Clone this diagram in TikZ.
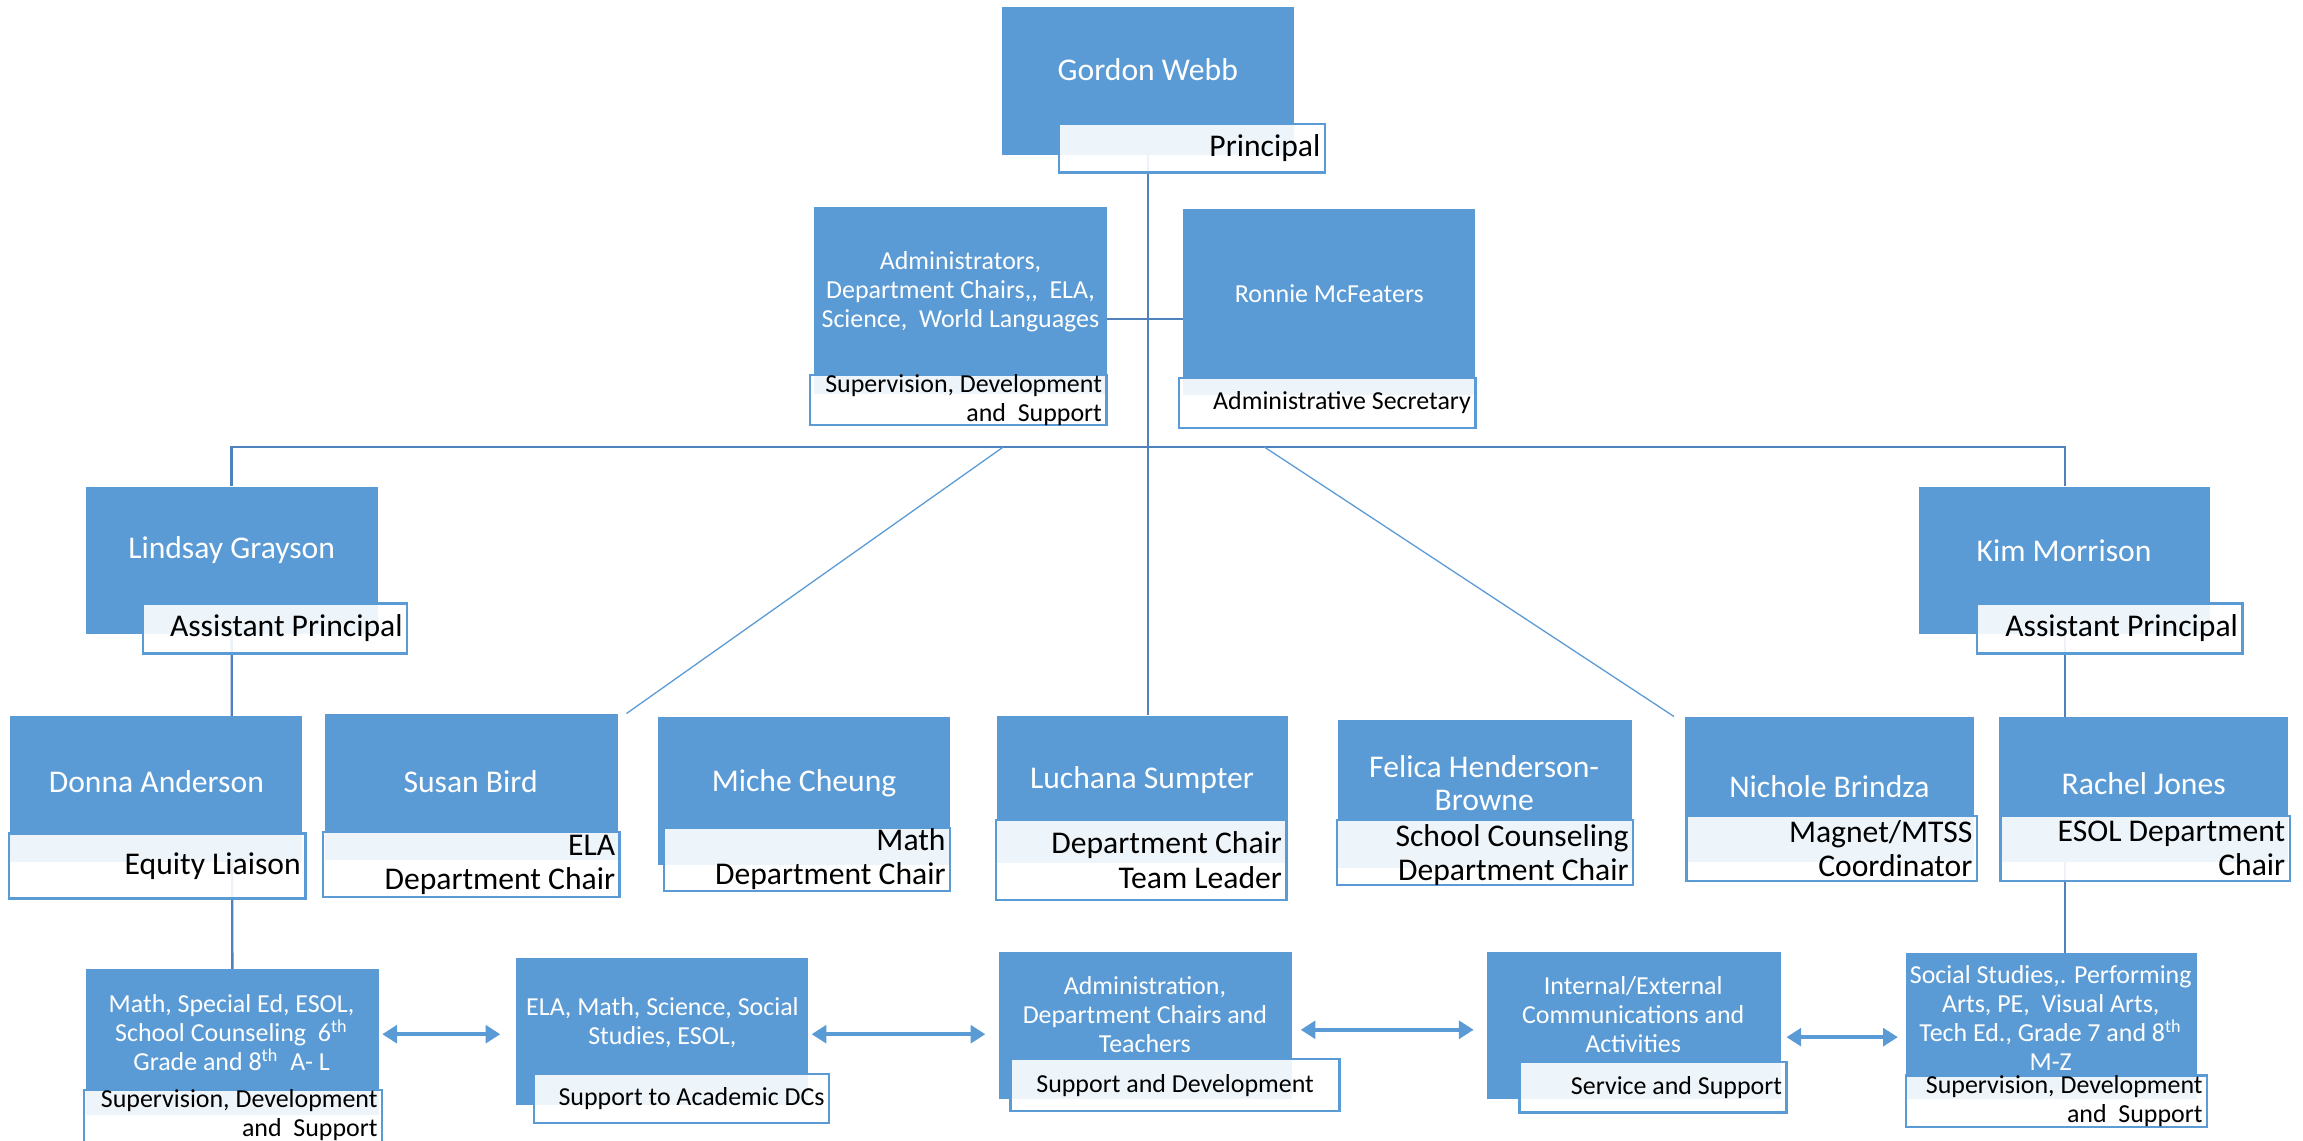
\documentclass[tikz,border=0pt]{standalone}
\usepackage{fontspec}
\setmainfont{Carlito}
\usetikzlibrary{fit,arrows.meta}
\definecolor{orgblue}{HTML}{5B9BD5}
\definecolor{linkblue}{HTML}{4F81BD}
\newcommand{\bigtxt}{\fontsize{12.2pt}{13.2pt}\selectfont}
\newcommand{\smalltxt}{\fontsize{10pt}{11.2pt}\selectfont}
\pgfdeclarelayer{bg}
\pgfsetlayers{bg,main}
\tikzset{
  bluebox/.style={fill=orgblue, draw=none, inner sep=0pt},
  tagbox/.style={fill=white, fill opacity=0.9, draw=orgblue, line width=0.9pt, inner sep=0pt},
  nametext/.style={text=white, align=center, inner sep=0pt, font=\bigtxt},
  grouptext/.style={text=white, align=center, inner sep=0pt, font=\smalltxt},
  roletext/.style={anchor=east, align=right, inner xsep=2pt, inner ysep=0pt, font=\bigtxt},
  smallrole/.style={anchor=east, align=right, inner xsep=2pt, inner ysep=0pt, font=\smalltxt},
  link/.style={draw=linkblue, line width=0.9pt},
  thinlink/.style={draw=orgblue, line width=0.5pt},
  flow/.style={draw=orgblue, line width=1.4pt, {Triangle[length=0.2cm,width=0.24cm]}-{Triangle[length=0.2cm,width=0.24cm]}, shorten <=1pt, shorten >=1pt}
}
\begin{document}
\begin{tikzpicture}[x=0.02cm, y=-0.02cm]
\useasboundingbox (0,0) rectangle (1561,773);
% blue boxes
\node[bluebox, fit={(679,5) (877,105)}] (gordon) {};
\node[bluebox, fit={(552,140) (750,267)}] (admin) {};
\node[bluebox, fit={(802,142) (1000,268)}] (ronnie) {};
\node[bluebox, fit={(58,330) (256,430)}] (lindsay) {};
\node[bluebox, fit={(1301,330) (1498,430)}] (kim) {};
\node[bluebox, fit={(7,485) (205,584)}] (donna) {};
\node[bluebox, fit={(220,484) (419,583)}] (susan) {};
\node[bluebox, fit={(446,486) (644,586)}] (miche) {};
\node[bluebox, fit={(676,485) (873,585)}] (luchana) {};
\node[bluebox, fit={(907,488) (1106,588)}] (felica) {};
\node[bluebox, fit={(1142,486) (1338,584)}] (nichole) {};
\node[bluebox, fit={(1355,486) (1551,584)}] (rachel) {};
\node[bluebox, fit={(58,657) (257,756)}] (grades) {};
\node[bluebox, fit={(350,649) (548,749)}] (academic) {};
\node[bluebox, fit={(677,645) (876,745)}] (teachers) {};
\node[bluebox, fit={(1008,645) (1207,745)}] (comms) {};
\node[bluebox, fit={(1292,646) (1489,745)}] (upper) {};
% title boxes
\node[tagbox, fit={(718,84) (898,117)}] (gordontag) {};
\node[tagbox, fit={(549,254) (750,288)}] (admintag) {};
\node[tagbox, fit={(799,256) (1000,290)}] (ronnietag) {};
\node[tagbox, fit={(97,409) (276,443)}] (lindsaytag) {};
\node[tagbox, fit={(1340,409) (1520,443)}] (kimtag) {};
\node[tagbox, fit={(6,565) (207,609)}] (donnatag) {};
\node[tagbox, fit={(219,564) (420,608)}] (susantag) {};
\node[tagbox, fit={(450,561) (644,604)}] (michetag) {};
\node[tagbox, fit={(675,556) (872,610)}] (luchanatag) {};
\node[tagbox, fit={(906,556) (1107,600)}] (felicatag) {};
\node[tagbox, fit={(1143,553) (1340,597)}] (nicholetag) {};
\node[tagbox, fit={(1356,553) (1552,597)}] (racheltag) {};
\node[tagbox, fit={(57,739) (259,776)}] (gradestag) {};
\node[tagbox, fit={(362,728) (562,761)}] (academictag) {};
\node[tagbox, fit={(685,718) (908,753)}] (teacherstag) {};
\node[tagbox, fit={(1030,720) (1211,754)}] (commstag) {};
\node[tagbox, fit={(1292,729) (1496,764)}] (uppertag) {};
% names
\node[nametext] (gordonname) at (778,47) {Gordon Webb};
\node[grouptext] (adminname) at (651,198) {Administrators,\\Department Chairs,{},\ \ ELA,\\Science,\ \ World Languages};
\node[grouptext] (ronniename) at (901,199) {Ronnie McFeaters};
\node[nametext] (lindsayname) at (157,373) {Lindsay Grayson};
\node[nametext] (kimname) at (1399,373) {Kim Morrison};
\node[nametext] (donnaname) at (106,530) {Donna Anderson};
\node[nametext] (susanname) at (319,530) {Susan Bird};
\node[nametext] (michename) at (545,531) {Miche Cheung};
\node[nametext] (luchananame) at (774,529) {Luchana Sumpter};
\node[nametext, font=\fontsize{12.2pt}{12.6pt}\selectfont] (felicaname) at (1006,531) {Felica Henderson-\\Browne};
\node[nametext] (nicholename) at (1240,533) {Nichole Brindza};
\node[nametext] (rachelname) at (1453,531) {Rachel Jones};
\node[grouptext] (gradesname) at (157,700) {Math, Special Ed, ESOL,\\School Counseling\ \ 6\textsuperscript{th}\\Grade and 8\textsuperscript{th}\ \ A- L};
\node[grouptext] (academicname) at (449,693) {ELA, Math, Science, Social\\Studies, ESOL,};
\node[grouptext] (teachersname) at (776,688) {Administration,\\Department Chairs and\\Teachers};
\node[grouptext] (commsname) at (1107,688) {Internal/External\\Communications and\\Activities};
\node[grouptext] (uppername) at (1390,690) {Social Studies,. Performing\\Arts, PE,\ \ Visual Arts,\\Tech Ed., Grade 7 and 8\textsuperscript{th}\\M-Z};
% titles
\node[roletext] (gordonrole) at (gordontag.east) {Principal};
\node[smallrole] (adminrole) at (admintag.east) {Supervision, Development\\and\ \ Support};
\node[smallrole] (ronnierole) at (ronnietag.east) {Administrative Secretary};
\node[roletext] (lindsayrole) at (lindsaytag.east) {Assistant Principal};
\node[roletext] (kimrole) at (kimtag.east) {Assistant Principal};
\node[roletext] (donnarole) at (donnatag.east) {Equity Liaison};
\node[roletext] (susanrole) at (susantag.east) {ELA\\Department Chair};
\node[roletext] (micherole) at (michetag.east) {Math\\Department Chair};
\node[roletext] (luchanarole) at (luchanatag.east) {Department Chair\\Team Leader};
\node[roletext] (felicarole) at ([yshift=-1pt]felicatag.east) {School Counseling\\Department Chair};
\node[roletext] (nicholerole) at (nicholetag.east) {Magnet/MTSS\\Coordinator};
\node[roletext] (rachelrole) at (racheltag.east) {ESOL Department\\Chair};
\node[smallrole] (gradesrole) at ([yshift=1pt]gradestag.east) {Supervision, Development\\and\ \ Support};
\node[smallrole] (academicrole) at (academictag.east) {Support to Academic DCs};
\node[smallrole, anchor=center] (teachersrole) at (teacherstag.center) {Support and Development};
\node[smallrole] (commsrole) at (commstag.east) {Service and Support};
\node[smallrole] (upperrole) at (uppertag.east) {Supervision, Development\\and\ \ Support};
% connectors
\coordinate (bar) at (778,303);
\coordinate (adminlink) at (750,216);
\coordinate (leftfork) at (680,303);
\coordinate (rightfork) at (857,303);
\begin{pgfonlayer}{bg}
\draw[link] (gordon.south) -- (gordon.south |- luchana.north);
\draw[link] (adminlink) -- (adminlink -| ronnie.west);
\draw[link] (lindsay.north) |- (bar) -| (kim.north);
\draw[link] (lindsay.south) -- (grades.north);
\draw[link] (kim.south) -- (kim.south |- upper.north);
\draw[thinlink] (leftfork) -- ([xshift=3pt]susan.north east);
\draw[thinlink] (rightfork) -- ([xshift=-4pt]nichole.north west);
\end{pgfonlayer}
\draw[flow] (grades.east |- 0,701) -- ([xshift=-5pt]academic.west |- 0,701);
\draw[flow] (academic.east |- 0,701) -- ([xshift=-4pt]teachers.west |- 0,701);
\draw[flow] ([xshift=2pt]teachers.east |- 0,698) -- ([xshift=-4pt]comms.west |- 0,698);
\draw[flow] ([xshift=1pt]comms.east |- 0,703) -- ([xshift=-2pt]upper.west |- 0,703);
\end{tikzpicture}
\end{document}
